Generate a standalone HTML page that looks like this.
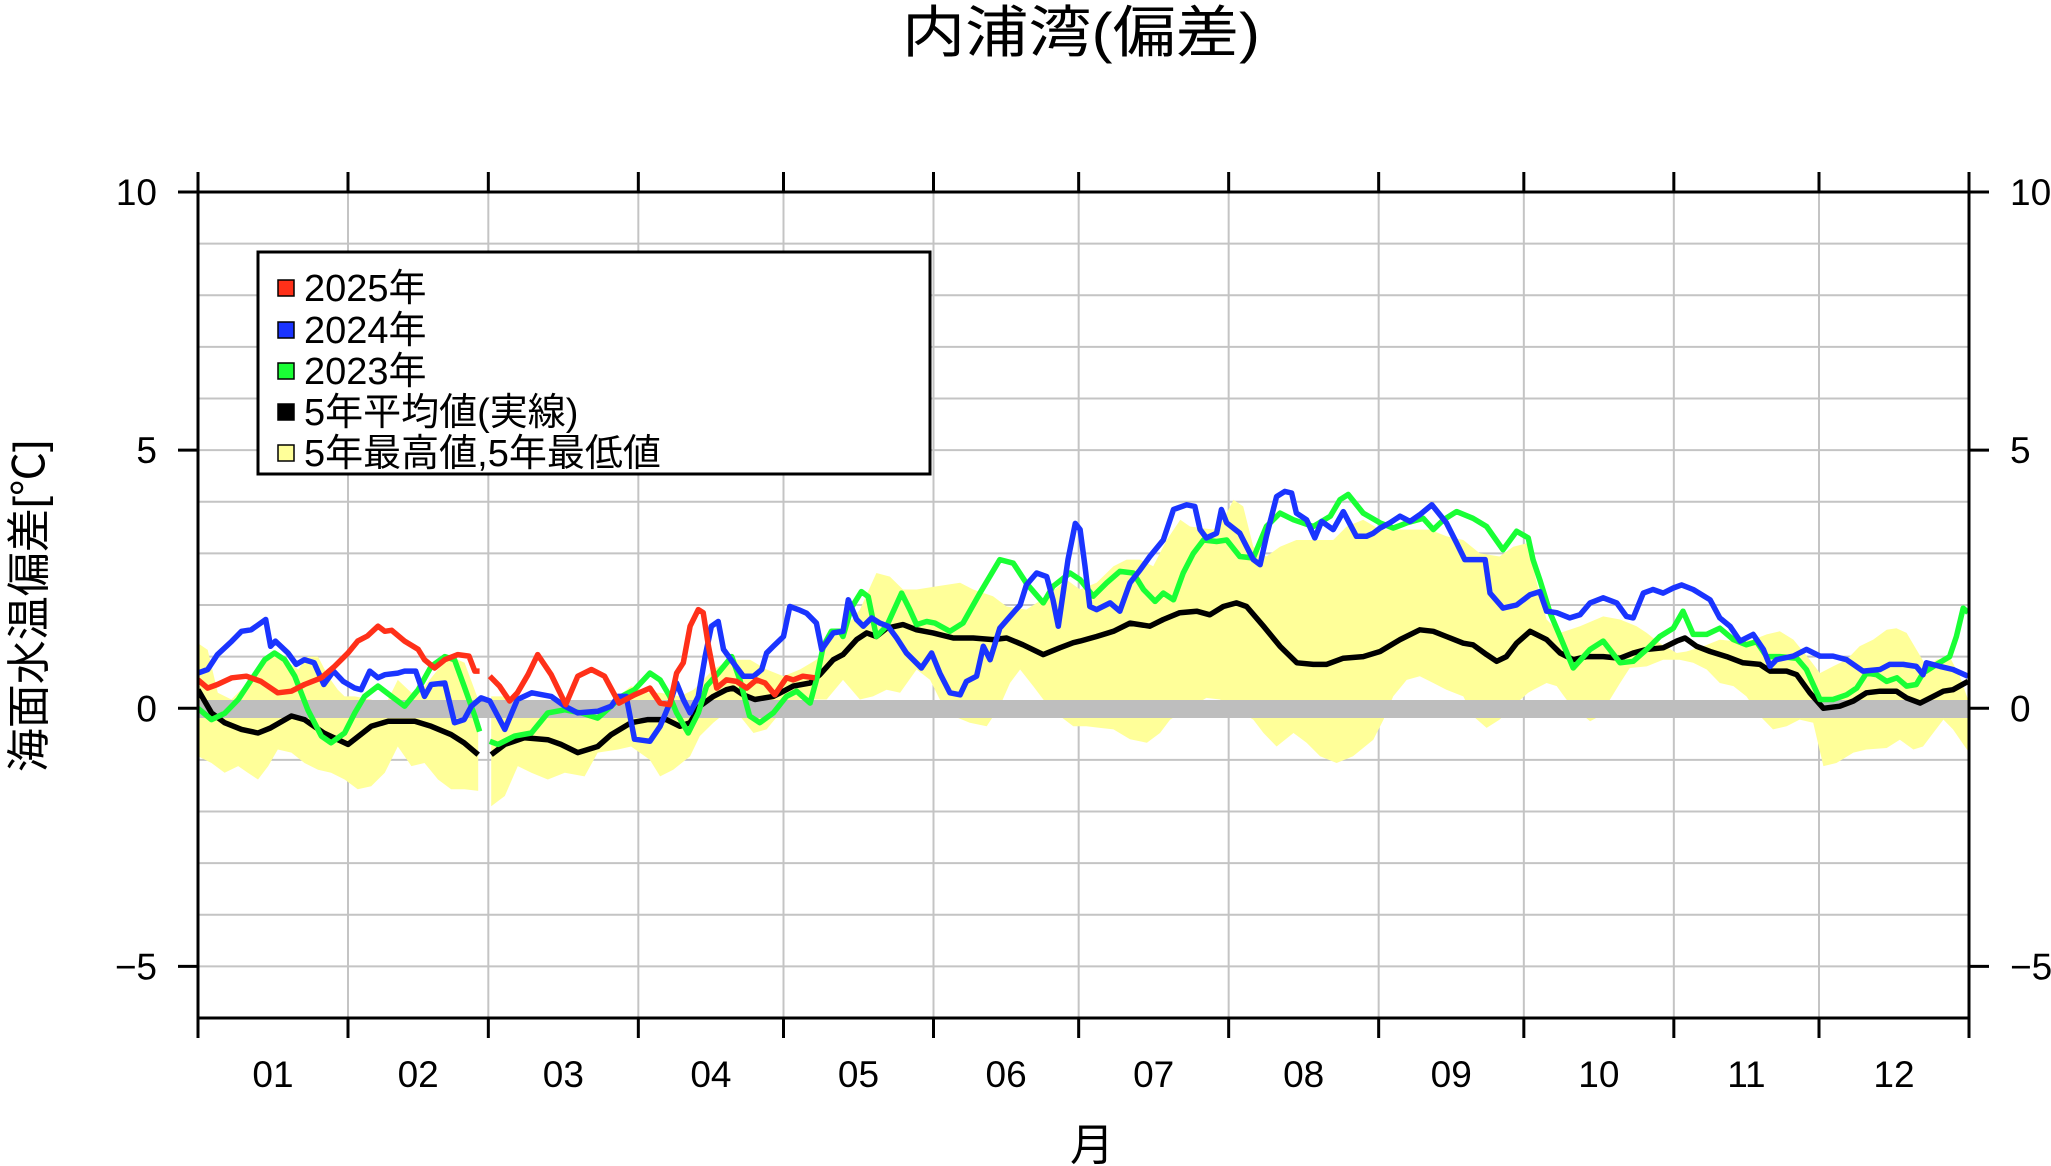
<!DOCTYPE html>
<html><head><meta charset="utf-8"><style>
html,body{margin:0;padding:0;background:#fff;}
svg{display:block;font-family:"Liberation Sans","Noto Sans CJK JP",sans-serif;}
</style></head><body>
<svg id="chart" width="2051" height="1166" viewBox="0 0 2051 1166" xmlns="http://www.w3.org/2000/svg">
<rect x="0" y="0" width="2051" height="1166" fill="#fff"/>
<text x="1081" y="52" font-size="56" text-anchor="middle" textLength="358" lengthAdjust="spacingAndGlyphs">内浦湾(偏差)</text>
<text transform="translate(44,606) rotate(-90)" font-size="44" text-anchor="middle">海面水温偏差[℃]</text>
<text x="1092" y="1160" font-size="44" text-anchor="middle">月</text>
<defs><clipPath id="pc"><rect x="198" y="192" width="1771" height="826"/></clipPath></defs>
<g id="grid"></g>
<g id="band" clip-path="url(#pc)"></g>
<rect x="198" y="700" width="1771" height="18" fill="#bebebe"/>
<g id="lines" clip-path="url(#pc)"></g>
<g id="axes"></g>
<g>
<rect x="258" y="252" width="672" height="222" fill="#fff" stroke="#000" stroke-width="3"/>
<g font-size="38">
<g><rect x="278" y="280" width="16" height="16" fill="#ff3019" stroke="#000" stroke-width="1.5"/><text x="304" y="301">2025年</text></g>
<g><rect x="278" y="322" width="16" height="16" fill="#1a34ff" stroke="#000" stroke-width="1.5"/><text x="304" y="343">2024年</text></g>
<g><rect x="278" y="363" width="16" height="16" fill="#19ff35" stroke="#000" stroke-width="1.5"/><text x="304" y="384">2023年</text></g>
<g><rect x="278" y="404" width="16" height="16" fill="#000" stroke="#000" stroke-width="1.5"/><text x="304" y="425">5年平均値(実線)</text></g>
<g><rect x="278" y="445" width="16" height="16" fill="#ffff99" stroke="#000" stroke-width="1.5"/><text x="304" y="466">5年最高値,5年最低値</text></g>
</g></g>
</svg>
<script>
const monthLabels=["01","02","03","04","05","06","07","08","09","10","11","12"];
const monthStarts=[0,31,60,91,121,152,182,213,244,274,305,335,366];
const yTicks=[10,5,0,-5];
const days2025=[0,2,4,7,10,13,16.5,19.3,22,25.5,28.2,31,33,35,37.2,38.6,40,42.7,45.5,46.8,48.9,51,53.7,56,57.2,58.2,null,60.3,62.3,64.4,66,68.2,70.2,73,76,78.5,81.3,84,87,90.2,93.4,95.5,97.5,98.9,100.3,101.7,103.4,104.4,105.5,107.2,109.2,111.3,113.4,115.4,117.2,119.2,121.6,123,125,127.5];
const vals2025=[0.55,0.39,0.46,0.59,0.62,0.52,0.3,0.33,0.46,0.59,0.81,1.07,1.3,1.4,1.59,1.49,1.51,1.3,1.14,0.94,0.78,0.94,1.04,1.01,0.72,0.72,null,0.62,0.43,0.14,0.3,0.65,1.04,0.65,0.07,0.62,0.75,0.62,0.1,0.26,0.39,0.1,0.07,0.68,0.88,1.59,1.91,1.85,1.2,0.39,0.55,0.52,0.39,0.55,0.49,0.26,0.59,0.55,0.62,0.59];
const days2024=[0,2,4,7,9,11,14,15,16,18.6,20.3,22,24,26,28,30,32.4,33.7,35.5,37.2,38.6,41.3,42.7,45,46.8,48.2,51,53,55,56.5,58.5,60.3,63.4,66,69,73,75.8,78.5,82.6,85.4,86.8,88.5,90.2,93.4,95.5,97.5,98.9,100.3,101.7,103.4,104.8,106.1,107.5,108.6,110.6,112.7,114.8,116.5,117.5,118.9,121,122.3,124.4,125.8,127.8,128.9,131.3,133.3,134.4,136.1,137.5,139.2,140.9,142.6,144.4,146.4,149.5,151.6,153.3,155.4,157.5,158.8,160.9,162.3,163.7,165.7,167.8,169.9,171.2,173.3,175.4,176.7,177.8,179.8,181.3,182.3,183.3,184.3,185.7,188.5,190.5,192.6,194.7,196.7,199.5,201.6,204.3,206,207.1,208.4,210.5,211.5,212.6,215.3,218.1,219.5,220.8,222.9,224.6,226,227,229.1,230.8,232.2,234.6,236.7,239.4,241.5,242.9,244.3,246.3,248.4,250.5,252.5,255,258,260.1,261.8,264.2,266,267,269.7,272.5,275.3,277.3,278.7,280.8,283.5,285.6,287.7,290.4,293.2,295.2,296.6,298.7,300.7,302.8,304.9,306.6,309,312.5,314.5,316.6,318.7,321.4,323.5,324.9,326.2,329.7,332.4,335.2,337.9,340.7,344.1,347.6,349.6,352.4,355.1,356.5,357.2,360,362.7,365.8];
const vals2024=[0.68,0.75,1.04,1.3,1.49,1.52,1.72,1.2,1.3,1.07,0.85,0.94,0.88,0.46,0.72,0.52,0.39,0.36,0.72,0.59,0.65,0.68,0.72,0.72,0.23,0.46,0.49,-0.28,-0.22,0.04,0.2,0.14,-0.41,0.17,0.3,0.23,0.04,-0.09,-0.06,0.04,0.23,0.23,-0.6,-0.64,-0.35,0.1,0.49,0.17,-0.09,0.23,1.0,1.59,1.68,1.14,0.88,0.62,0.62,0.75,1.07,1.2,1.39,1.97,1.9,1.84,1.65,1.14,1.46,1.49,2.1,1.72,1.59,1.75,1.65,1.59,1.36,1.07,0.78,1.07,0.68,0.3,0.26,0.52,0.62,1.2,0.94,1.55,1.78,2.0,2.39,2.62,2.55,2.1,1.59,2.88,3.58,3.46,2.75,1.97,1.91,2.04,1.88,2.43,2.68,2.94,3.26,3.85,3.94,3.91,3.46,3.3,3.39,3.85,3.59,3.39,2.88,2.78,3.33,4.1,4.2,4.17,3.78,3.65,3.3,3.62,3.46,3.81,3.33,3.33,3.39,3.49,3.59,3.72,3.62,3.75,3.94,3.59,3.2,2.88,2.88,2.88,2.23,1.94,2.0,2.2,2.26,1.88,1.85,1.75,1.81,2.04,2.14,2.04,1.78,1.75,2.23,2.3,2.23,2.33,2.39,2.3,2.1,1.75,1.59,1.3,1.43,1.14,0.81,0.94,1.01,1.14,1.01,1.01,0.94,0.72,0.75,0.85,0.85,0.81,0.65,0.88,0.81,0.75,0.62];
const days2023=[0,2.8,5.5,8.3,11,13.8,15.8,17.9,20,22.7,25.5,27.5,30.3,32.4,34.4,37.2,40,42.7,45.5,48.2,51,53,55,57.2,58.2,null,60.3,62,65.4,68.9,72.3,75.8,79.2,82.6,85.4,87.5,90.2,93.4,95.5,97.5,98.9,101.3,103.4,105.1,107.5,110.3,112,114,116.1,118.9,121.6,123.7,126.5,127.8,129.2,130.9,132.7,133.3,135,137.1,138.5,140.2,142.3,145.4,147.1,148.5,150.6,152.3,155.4,158.1,161.6,165.7,168.5,171.2,174.7,176.7,180.2,182.3,185,187.8,190.5,193.3,195.4,197.8,199.5,201.6,203.6,205.7,207.8,210.5,212.6,215.3,218.1,220.8,223.6,226.4,230.5,234,236,237.7,240.8,244.3,247,249.8,253.2,255.3,257.4,260.1,263.5,266.3,269.7,272.5,274.9,275.9,277.3,279.4,281.5,284.2,287.7,290.4,293.9,296.6,299.4,302.1,304.9,306.9,309,311.8,314.5,317.3,320,322.1,324.2,326.9,330.4,332.4,335.2,337.9,340.7,342.8,344.8,346.9,349,351.1,353.1,355.1,356.5,359.3,362,363.4,364.8,365.8];
const vals2023=[0,-0.22,-0.1,0.17,0.55,0.94,1.07,0.94,0.62,-0.03,-0.54,-0.67,-0.48,-0.09,0.23,0.43,0.23,0.04,0.36,0.81,1.0,0.94,0.43,-0.15,-0.45,null,-0.64,-0.7,-0.54,-0.48,-0.09,-0.03,-0.09,-0.19,0.04,0.23,0.36,0.68,0.55,0.23,-0.09,-0.48,-0.09,0.43,0.68,1.0,0.55,-0.15,-0.28,-0.09,0.23,0.33,0.1,0.55,1.2,1.49,1.49,1.39,1.94,2.26,2.16,1.39,1.59,2.23,1.91,1.62,1.68,1.65,1.49,1.65,2.23,2.88,2.81,2.42,2.04,2.36,2.62,2.49,2.17,2.43,2.65,2.62,2.3,2.07,2.23,2.1,2.62,3.0,3.26,3.23,3.26,2.94,2.91,3.52,3.78,3.65,3.52,3.72,4.04,4.14,3.78,3.59,3.49,3.59,3.68,3.46,3.65,3.81,3.68,3.52,3.07,3.43,3.3,2.88,2.49,1.85,1.39,0.78,1.14,1.3,0.88,0.91,1.14,1.39,1.55,1.88,1.43,1.43,1.55,1.33,1.23,1.29,1.0,1.0,0.97,0.75,0.17,0.17,0.26,0.39,0.68,0.65,0.52,0.59,0.43,0.46,0.68,0.85,1.0,1.39,1.94,1.85];
const daysAvg=[0,2.8,5.5,9,12.4,15,19.3,22,26,31,35.8,39.3,44.8,48.2,52.3,55,57.9,null,60.6,63.4,67.5,72.3,75,78.5,82.6,85.4,89.5,93,96.8,99.6,101.7,103.7,106.5,109.2,110.6,112.7,115.1,118.9,121,123,126.5,128.5,131.3,133.3,136.1,138.2,140.2,142.3,145.7,148.5,151.9,156.1,160.2,164.3,167.1,170.5,174.7,178.1,180.9,182.3,185.7,189.2,192.6,196.7,199.5,202.9,206.4,209.1,211.9,214.6,216.7,220.2,223.6,227.1,230.5,233.2,236.7,240.8,244.3,248.4,252.5,255.3,258,261.5,263.5,266.3,268.4,270.4,272.5,275.3,278.7,281.5,284.2,287,290.4,293.9,296.6,299.4,302.8,305.6,307.3,309.7,312.5,315.9,319.3,322.8,324.9,328.3,330.4,333.1,335.9,339.3,342.1,344.8,347.6,351,353.1,355.9,358.6,360.7,362.7,365.8];
const valsAvg=[0.36,-0.09,-0.28,-0.41,-0.48,-0.38,-0.15,-0.22,-0.48,-0.7,-0.35,-0.25,-0.25,-0.35,-0.51,-0.67,-0.9,null,-0.9,-0.7,-0.57,-0.61,-0.7,-0.86,-0.74,-0.51,-0.28,-0.22,-0.22,-0.35,-0.28,0.04,0.23,0.36,0.39,0.26,0.17,0.23,0.33,0.43,0.49,0.65,0.94,1.04,1.33,1.46,1.39,1.55,1.62,1.52,1.46,1.36,1.36,1.33,1.36,1.23,1.04,1.17,1.27,1.3,1.39,1.49,1.65,1.59,1.72,1.85,1.88,1.81,1.97,2.04,1.97,1.59,1.2,0.88,0.85,0.85,0.97,1.0,1.1,1.33,1.52,1.49,1.39,1.26,1.23,1.04,0.91,1.0,1.26,1.49,1.33,1.07,0.94,1.0,1.0,0.97,1.07,1.14,1.17,1.3,1.36,1.2,1.1,1.0,0.88,0.85,0.72,0.72,0.65,0.3,0.0,0.04,0.14,0.3,0.33,0.33,0.2,0.1,0.23,0.33,0.36,0.52];
const daysUpper=[0,2,4.1,6.9,9.6,12.4,15.2,17.9,20.7,22.7,24.8,26.9,28.9,30.3,32.4,35.8,38.6,41.3,44.1,46.8,49.6,52.3,55.1,57.9,null,60.6,63.4,66.1,68.9,75.8,82.6,86.8,89.5,93,95.5,99.6,102.4,106.5,109.9,114.1,117.5,121,124.4,127.8,129.9,134,136.8,140.2,143,145.7,148.5,152.6,157.5,160.2,164.3,167.1,171.2,175.4,179.5,182.3,185.7,189.2,191.9,194.7,197.4,200.2,203,205,209.8,211.9,214,216,218.1,220.8,223.6,227,230.5,234.6,237.4,240.8,244.3,247.7,251.1,254.6,258,261.5,264.9,269,271.8,274.9,276.5,278.7,281.5,285.6,290.4,293.9,297.3,299.4,302.1,305.6,307.6,311.1,314.5,317.3,321.4,324.2,326.9,329.7,333.1,335.2,337.9,340.7,343.4,346.2,349,351,353.1,355.1,357.2,359.3,362,364.1,365.8];
const valsUpper=[1.26,1.13,0.3,0.17,0.43,0.75,1.07,0.94,0.75,1.0,1.0,0.62,0.36,0.23,0.23,0.17,0.04,0.55,0.3,0.43,0.75,1.0,0.88,0.17,null,0.23,0.23,0.17,0.04,0.04,-0.03,0.23,0.43,0.3,0.3,0.23,0.36,0.75,0.94,0.94,0.75,0.62,0.75,0.94,1.26,1.59,1.91,2.62,2.55,2.3,2.3,2.36,2.43,2.3,2.17,1.97,1.91,2.17,2.49,2.3,2.43,2.75,2.88,2.88,2.75,3.26,3.65,3.52,3.46,3.65,4.04,3.91,3.13,2.94,3.13,3.26,3.26,3.26,3.52,3.65,3.46,3.46,3.46,3.46,3.33,3.26,3.0,2.94,3.13,3.2,2.5,1.72,1.46,1.59,1.78,1.72,1.59,1.46,1.26,1.07,1.1,1.2,1.33,1.3,1.33,1.43,1.49,1.33,0.94,0.68,0.81,0.94,1.2,1.33,1.52,1.55,1.46,1.14,0.81,0.94,1.0,0.62,0.17];
const daysLower=[0,2.8,5.5,8.3,10.3,12.4,14.5,16.5,19.3,22,24.8,27.5,30.3,33,35.8,38.6,41.3,44.1,46.8,49.6,52.3,55.1,57.9,null,60.6,63.4,66.1,68.9,72.3,75.8,79.9,82.6,86.8,89.5,93.4,95.5,98.2,101.7,103.7,106.5,109,112,114.8,117.5,120.3,124.4,127.1,129.9,133.3,136.8,139.5,142.3,145.1,148.5,151.3,153.3,156.1,159.5,163,165.7,167.8,169.9,172.6,174.7,178.1,180.9,183.6,186.4,189.2,192.6,196.1,198.8,200.9,204.3,208.4,211.2,214.6,218.1,220.2,222.9,226.4,229.1,231.9,235.3,238.7,242.9,245,247,249.8,252.5,255.3,258,261.5,263.5,266.3,269,271.8,274.9,276,278.7,280.8,282.8,285.6,287.7,289.7,291.8,293.9,295.9,299.4,302.8,306.2,309,311.8,314.5,317.3,320,322.8,325.5,328.3,331,333.8,335.9,338.6,342.1,344.8,349,351.7,354.5,356.5,358.6,360.7,362.7,365.8];
const valsLower=[-0.93,-1.06,-1.25,-1.12,-1.25,-1.38,-1.12,-0.8,-0.86,-1.06,-1.19,-1.25,-1.38,-1.57,-1.51,-1.25,-0.74,-1.12,-1.06,-1.38,-1.57,-1.57,-1.6,null,-1.9,-1.7,-1.12,-1.25,-1.38,-1.25,-1.32,-0.86,-0.8,-0.74,-1.0,-1.32,-1.19,-0.93,-0.54,-0.28,-0.09,-0.15,-0.48,-0.41,-0.09,0.17,0.17,0.17,0.55,0.17,0.23,0.36,0.3,0.75,0.55,0.17,-0.15,-0.28,-0.35,0.04,0.49,0.75,0.43,0.17,-0.15,-0.35,-0.35,-0.38,-0.41,-0.6,-0.67,-0.48,-0.22,-0.03,0.2,0.17,-0.03,-0.22,-0.48,-0.74,-0.48,-0.67,-0.93,-1.06,-0.93,-0.61,-0.22,0.23,0.55,0.62,0.49,0.36,0.23,-0.15,-0.38,-0.22,0.04,0.3,0.36,0.49,0.43,0.17,-0.09,-0.25,-0.15,0.17,0.49,0.78,0.81,0.94,0.94,0.88,0.75,0.49,0.43,0.23,-0.15,-0.41,-0.35,-0.22,-0.28,-1.12,-1.06,-0.86,-0.8,-0.77,-0.61,-0.8,-0.74,-0.48,-0.22,-0.41,-0.83];

const X0=198,X1=1969,Y0=192,Y1=1018,VMIN=-6,VMAX=10,DMAX=366;
const NS="http://www.w3.org/2000/svg";
function xs(d){return X0+d/DMAX*(X1-X0);}
function ys(v){return Y1-(v-VMIN)/(VMAX-VMIN)*(Y1-Y0);}
function mk(tag,parent,attrs){const e=document.createElementNS(NS,tag);for(const k in attrs)e.setAttribute(k,attrs[k]);parent.appendChild(e);return e;}
function segs(days,vals){const out=[];let cur=[];for(let i=0;i<days.length;i++){if(days[i]===null||vals[i]===null){if(cur.length)out.push(cur);cur=[];}else cur.push([days[i],vals[i]]);}if(cur.length)out.push(cur);return out;}
const grid=document.getElementById('grid');
for(let v=VMIN+1;v<VMAX;v++){
  const l=mk('line',grid,{x1:X0,x2:X1,y1:ys(v),y2:ys(v),stroke:'#c4c4c4','stroke-width':2});
  
  
}
for(let i=1;i<monthStarts.length-1;i++){
  const l=mk('line',grid,{x1:xs(monthStarts[i]),x2:xs(monthStarts[i]),y1:Y0,y2:Y1,stroke:'#c4c4c4','stroke-width':2});
  
  
}
// band
const band=document.getElementById('band');
const us=segs(daysUpper,valsUpper), ls=segs(daysLower,valsLower);
for(let s=0;s<us.length;s++){
  const up=us[s], lo=ls[s]||[];
  let d=up.map((p,i)=>(i?'L':'M')+xs(p[0]).toFixed(1)+','+ys(p[1]).toFixed(1)).join('');
  d+=lo.slice().reverse().map(p=>'L'+xs(p[0]).toFixed(1)+','+ys(p[1]).toFixed(1)).join('')+'Z';
  const p=mk('path',band,{d:d,fill:'#ffff99',stroke:'none'});
  
  
}
const lines=document.getElementById('lines');
function drawSeries(days,vals,color,name){
  const d=segs(days,vals).map(sg=>sg.map((p,i)=>(i?'L':'M')+xs(p[0]).toFixed(1)+','+ys(p[1]).toFixed(1)).join('')).join('');
  const p=mk('path',lines,{d:d,fill:'none',stroke:color,'stroke-width':5.5,'stroke-linejoin':'round'});
  
  
}
drawSeries(daysAvg,valsAvg,'#000','line-5yr-average');
drawSeries(days2023,vals2023,'#19ff35','line-2023');
drawSeries(days2024,vals2024,'#1a34ff','line-2024');
drawSeries(days2025,vals2025,'#ff3019','line-2025');
const axes=document.getElementById('axes');
const fr=mk('rect',axes,{x:X0,y:Y0,width:X1-X0,height:Y1-Y0,fill:'none',stroke:'#000','stroke-width':3});


for(const v of yTicks){
  const y=ys(v);
  mk('line',axes,{x1:X0-20,x2:X0,y1:y,y2:y,stroke:'#000','stroke-width':3});
  mk('line',axes,{x1:X1,x2:X1+20,y1:y,y2:y,stroke:'#000','stroke-width':3});
  const lab=v<0?'\u2212'+(-v):String(v);
  const t1=mk('text',axes,{x:157,y:y+13,'font-size':37,'text-anchor':'end'});t1.textContent=lab;
  
  
  const t2=mk('text',axes,{x:2010,y:y+13,'font-size':37,'text-anchor':'start'});t2.textContent=lab;
  
  
}
for(let i=0;i<monthStarts.length;i++){
  const x=xs(monthStarts[i]);
  mk('line',axes,{x1:x,x2:x,y1:Y0-20,y2:Y0,stroke:'#000','stroke-width':3});
  mk('line',axes,{x1:x,x2:x,y1:Y1,y2:Y1+20,stroke:'#000','stroke-width':3});
}
for(let i=0;i<monthLabels.length;i++){
  const x=xs((monthStarts[i]+monthStarts[i+1])/2);
  const t=mk('text',axes,{x:x,y:1087,'font-size':37,'text-anchor':'middle'});t.textContent=monthLabels[i];
  
  
}
</script>
</body></html>
